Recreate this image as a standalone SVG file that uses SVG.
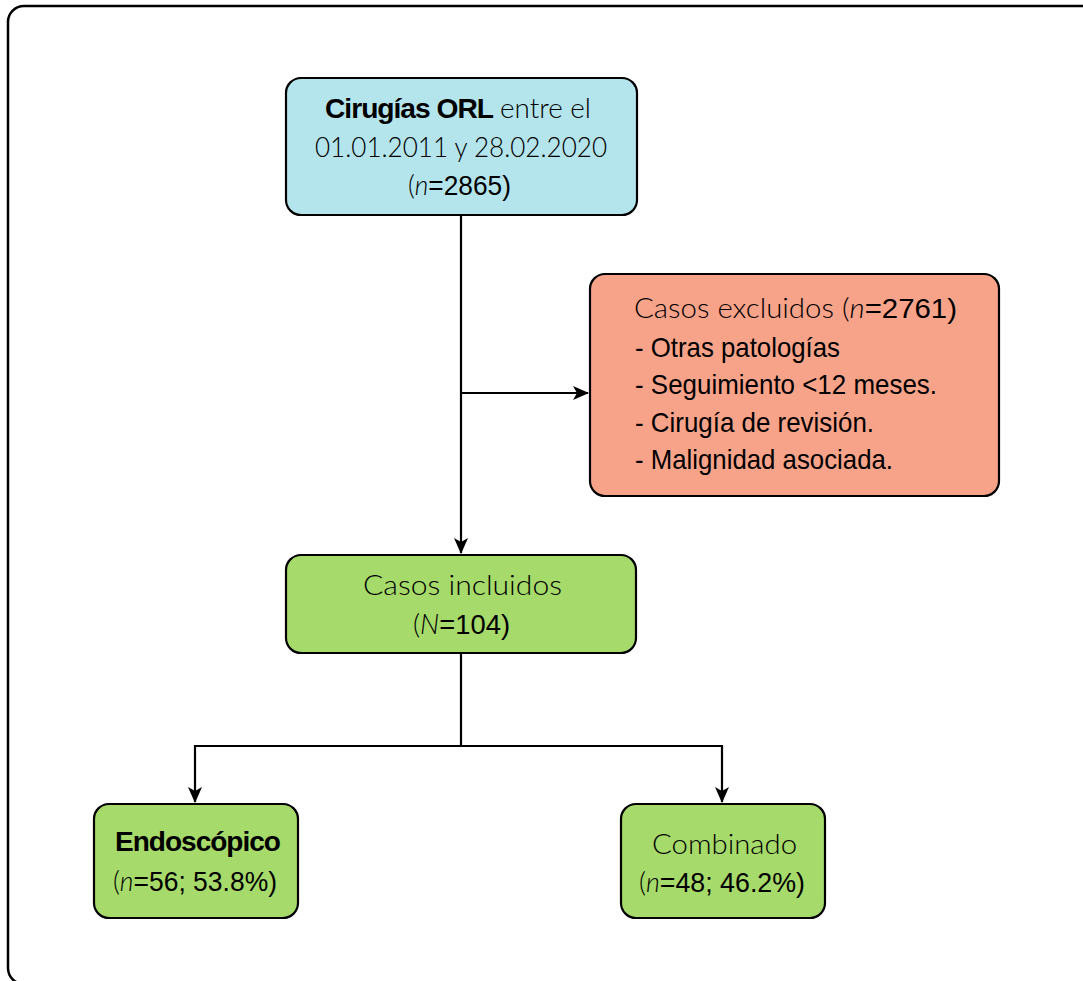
<svg xmlns="http://www.w3.org/2000/svg" width="1083" height="981" viewBox="0 0 1083 981">
<defs>
<style>
.box{stroke:#000;stroke-width:2.2}
.blue{fill:#b5e5ec}
.red{fill:#f7a38a}
.green{fill:#a6da6a}
.edge{fill:none;stroke:#000;stroke-width:2.2}
.lt{font-family:"Lato","Inter","Liberation Sans",sans-serif;font-weight:300;font-size:28px;fill:#000}
.nr{font-family:"Liberation Sans Narrow","Liberation Sans",sans-serif;font-size:28px;fill:#000}
.bd{font-family:"Liberation Sans Narrow","Liberation Sans",sans-serif;font-weight:bold;font-size:28px;fill:#000;letter-spacing:-1px}
.it{font-style:italic}
</style>
<marker id="arr" viewBox="0 0 16 16" markerWidth="16" markerHeight="16" refX="15" refY="8" orient="auto" markerUnits="userSpaceOnUse">
<path d="M0,1 L16,8 L0,15 L4,8 z" fill="#000"/>
</marker>
</defs>
<rect x="8" y="6" width="1110" height="978" rx="16" fill="#fff" stroke="#000" stroke-width="2.5"/>
<g id="connectors">
<path class="edge" d="M461,215 V553" marker-end="url(#arr)"/>
<path class="edge" d="M461,393 H588" marker-end="url(#arr)"/>
<path class="edge" d="M461,653 V746 H195 V802" marker-end="url(#arr)"/>
<path class="edge" d="M461,746 H722 V802" marker-end="url(#arr)"/>
</g>
<g id="node-cirugias">
<rect class="box blue" x="286" y="78" width="351" height="137" rx="15"/>
<text class="bd" x="325" y="118" textLength="168" lengthAdjust="spacingAndGlyphs">Cirugías ORL</text>
<text class="lt" x="500" y="118" textLength="91" lengthAdjust="spacingAndGlyphs">entre el</text>
<text class="lt" x="315" y="157" textLength="292" lengthAdjust="spacingAndGlyphs">01.01.2011 y 28.02.2020</text>
<text x="408" y="195" textLength="103" lengthAdjust="spacingAndGlyphs"><tspan class="lt">(</tspan><tspan class="lt it">n</tspan><tspan class="nr">=2865)</tspan></text>
</g>
<g id="node-excluidos">
<rect class="box red" x="590" y="274" width="409" height="222" rx="15"/>
<text x="634" y="318" textLength="323" lengthAdjust="spacingAndGlyphs"><tspan class="lt">Casos excluidos (</tspan><tspan class="lt it">n</tspan><tspan class="nr">=2761)</tspan></text>
<text class="nr" x="635" y="357" textLength="205" lengthAdjust="spacingAndGlyphs">- Otras patologías</text>
<text class="nr" x="635" y="394" textLength="302" lengthAdjust="spacingAndGlyphs">- Seguimiento &lt;12 meses.</text>
<text class="nr" x="635" y="432" textLength="239" lengthAdjust="spacingAndGlyphs">- Cirugía de revisión.</text>
<text class="nr" x="635" y="469" textLength="258" lengthAdjust="spacingAndGlyphs">- Malignidad asociada.</text>
</g>
<g id="node-incluidos">
<rect class="box green" x="286" y="555" width="350" height="98" rx="15"/>
<text class="lt" x="363" y="595" textLength="199" lengthAdjust="spacingAndGlyphs">Casos incluidos</text>
<text x="413" y="634" textLength="97" lengthAdjust="spacingAndGlyphs"><tspan class="lt">(</tspan><tspan class="lt it">N</tspan><tspan class="nr">=104)</tspan></text>
</g>
<g id="node-endoscopico">
<rect class="box green" x="94" y="804" width="204" height="114" rx="15"/>
<text class="bd" x="115" y="851" textLength="165" lengthAdjust="spacingAndGlyphs">Endoscópico</text>
<text x="113" y="891" textLength="164" lengthAdjust="spacingAndGlyphs"><tspan class="lt">(</tspan><tspan class="lt it">n</tspan><tspan class="nr">=56; 53.8%)</tspan></text>
</g>
<g id="node-combinado">
<rect class="box green" x="621" y="804" width="204" height="114" rx="15"/>
<text class="lt" x="652" y="854" textLength="145" lengthAdjust="spacingAndGlyphs">Combinado</text>
<text x="639" y="892" textLength="166" lengthAdjust="spacingAndGlyphs"><tspan class="lt">(</tspan><tspan class="lt it">n</tspan><tspan class="nr">=48; 46.2%)</tspan></text>
</g>
</svg>
